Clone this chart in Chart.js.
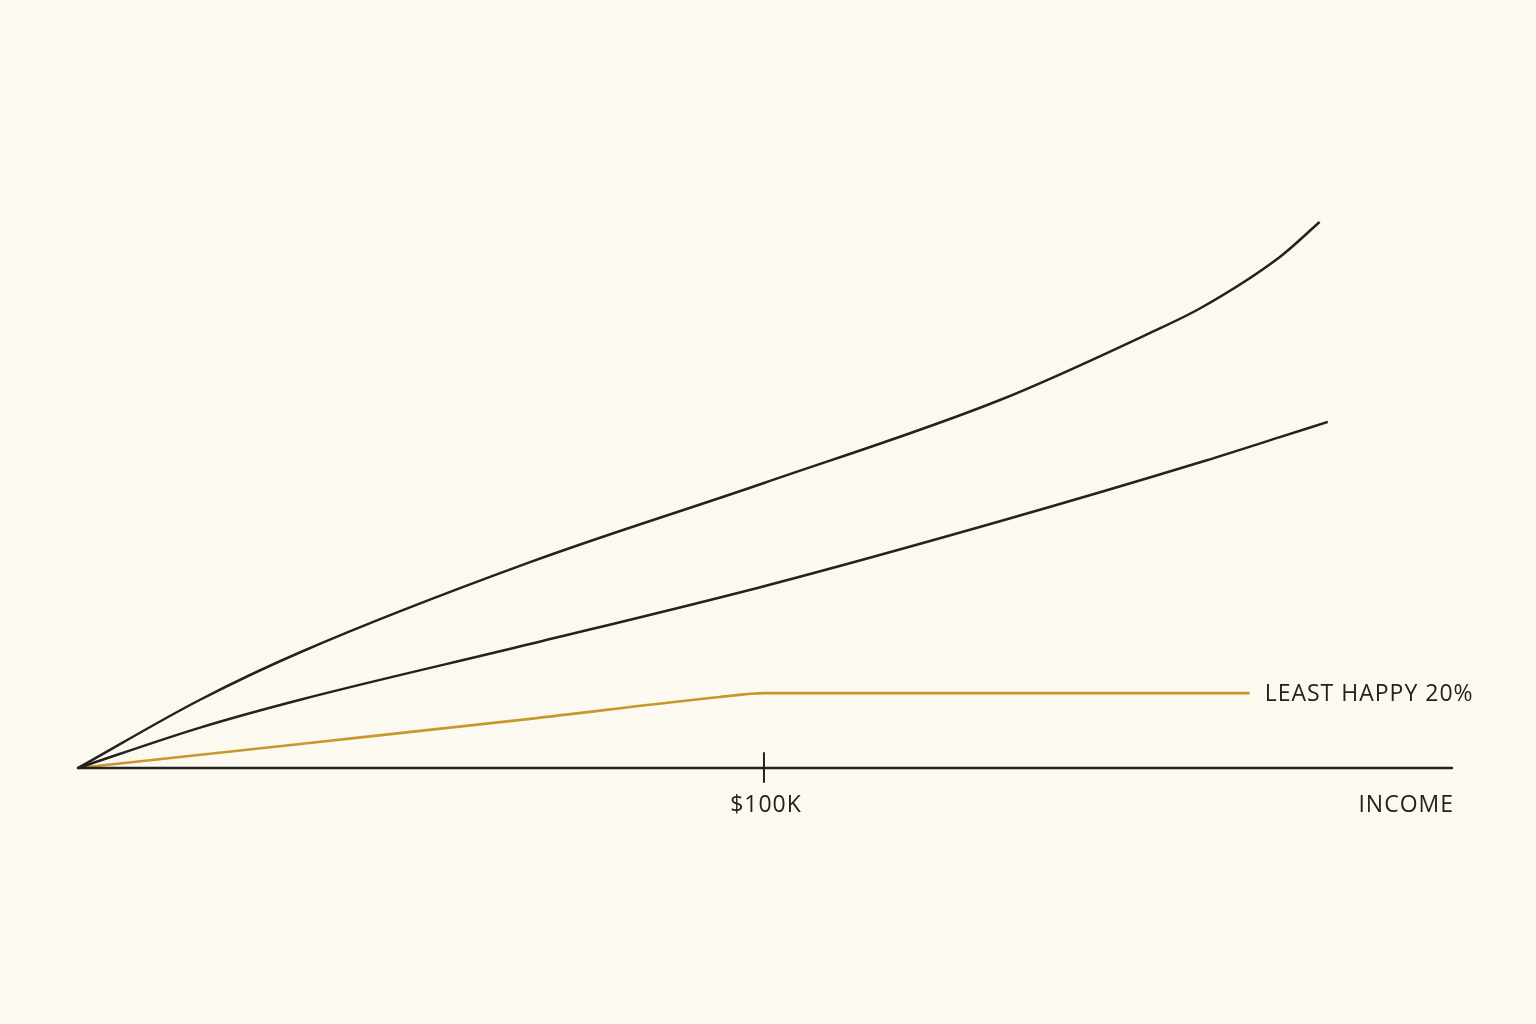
<!DOCTYPE html>
<html>
<head>
<meta charset="utf-8">
<title>Income and happiness</title>
<script src="https://cdn.jsdelivr.net/npm/chart.js@4.4.1/dist/chart.umd.min.js"></script>
<style>
  html, body { margin: 0; padding: 0; background: #fcf9f1; }
  #wrap { width: 1536px; height: 1024px; position: relative; }
</style>
</head>
<body>
<div id="wrap"><canvas id="happyChart"></canvas></div>
<script>
// income in $K, happiness in arbitrary units (0 = baseline)
const topIncome    = [0, 17.8, 32.4, 65.9, 100, 134.4, 156.3, 163.6, 175.2, 181.0];
const topHappy     = [0, 12.5, 21.2, 37.7, 52.2, 67.4, 79.7, 84.2, 93.6, 100];

const midIncome    = [0, 17.8, 32.4, 65.9, 100, 134.4, 163.6, 175.2, 182.2];
const midHappy     = [0, 7.4, 12.5, 22.7, 33.3, 45.2, 56.0, 60.6, 63.4];

const leastIncome  = [0, 32.4, 65.9, 93.6, 100, 170.8];
const leastHappy   = [0, 4.4, 9.0, 13.0, 13.7, 13.7];

const tickIncome   = [100];
const tickLabels   = ['$100K'];
const axisTitle    = 'INCOME';
const leastLabel   = 'LEAST HAPPY 20%';

const ink = '#222222';
const gold = '#c9982c';
const fontFamily = '"Open Sans", "DejaVu Sans", sans-serif';

function toPoints(xs, ys) {
  return xs.map((x, i) => ({ x: x, y: ys[i] }));
}

// draws the baseline axis, the $100K tick and the text labels
const annotations = {
  id: 'annotations',
  afterDatasetsDraw(chart) {
    const ctx = chart.ctx;
    const xs = chart.scales.x;
    const ys = chart.scales.y;
    const y0 = ys.getPixelForValue(0);

    ctx.save();
    ctx.strokeStyle = ink;
    ctx.lineWidth = 2.5;
    ctx.lineCap = 'round';
    ctx.beginPath();
    ctx.moveTo(xs.left, y0);
    ctx.lineTo(xs.right, y0);
    ctx.stroke();

    ctx.fillStyle = ink;
    ctx.font = '23px ' + fontFamily;
    ctx.letterSpacing = '1px';
    ctx.textBaseline = 'alphabetic';

    tickIncome.forEach((v, i) => {
      const px = xs.getPixelForValue(v);
      ctx.lineWidth = 2;
      ctx.beginPath();
      ctx.moveTo(px, y0 - 15);
      ctx.lineTo(px, y0 + 14);
      ctx.stroke();
      ctx.textAlign = 'center';
      ctx.fillText(tickLabels[i], px + 2, y0 + 44);
    });

    ctx.textAlign = 'right';
    ctx.fillText(axisTitle, xs.right + 2, y0 + 44);

    const meta = chart.getDatasetMeta(2);
    const last = meta.data[meta.data.length - 1];
    ctx.textAlign = 'left';
    ctx.fillText(leastLabel, last.x + 15, last.y + 8);
    ctx.restore();
  }
};

const ctx = document.getElementById('happyChart').getContext('2d');
const happyChart = new Chart(ctx, {
  type: 'line',
  data: {
    datasets: [
      {
        label: 'Top',
        data: toPoints(topIncome, topHappy),
        borderColor: ink,
        borderWidth: 2.5,
        cubicInterpolationMode: 'monotone',
        pointRadius: 0,
        fill: false,
        clip: false
      },
      {
        label: 'Middle',
        data: toPoints(midIncome, midHappy),
        borderColor: ink,
        borderWidth: 2.5,
        cubicInterpolationMode: 'monotone',
        pointRadius: 0,
        fill: false,
        clip: false
      },
      {
        label: 'Least happy 20%',
        data: toPoints(leastIncome, leastHappy),
        borderColor: gold,
        borderWidth: 2.7,
        cubicInterpolationMode: 'monotone',
        pointRadius: 0,
        fill: false,
        clip: false
      }
    ]
  },
  options: {
    responsive: true,
    maintainAspectRatio: false,
    animation: false,
    layout: { padding: { left: 78, right: 84, top: 222, bottom: 256 } },
    plugins: {
      legend: { display: false },
      tooltip: { enabled: false }
    },
    scales: {
      x: { type: 'linear', min: 0, max: 200.3, display: false },
      y: { type: 'linear', min: 0, max: 100, display: false }
    }
  },
  plugins: [annotations]
});
</script>
</body>
</html>
